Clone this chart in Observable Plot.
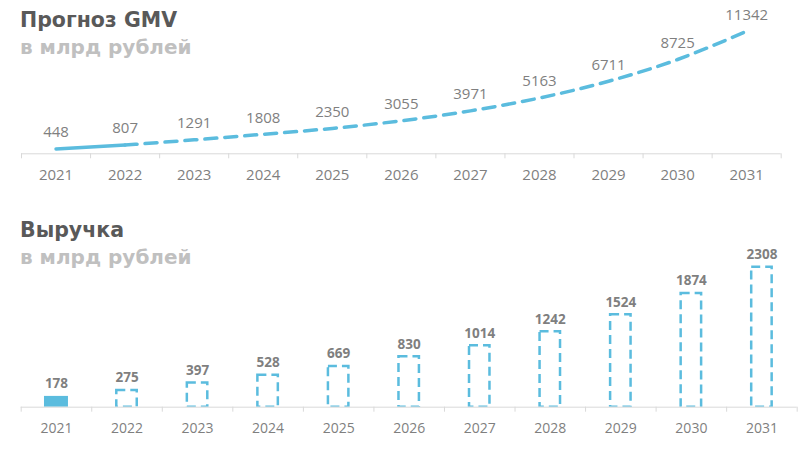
<!DOCTYPE html>
<html><head><meta charset="utf-8">
<script src="https://cdn.jsdelivr.net/npm/d3@7"></script>
<script src="https://cdn.jsdelivr.net/npm/@observablehq/plot@0.6"></script>
<style>
body{margin:0;background:#fff;}
#wrap{position:relative;width:807px;height:449px;overflow:hidden;background:#fff;}
#top,#bot{position:absolute;left:0;}
#top{top:0;}
#bot{top:200px;}
.t{position:absolute;left:20px;font-family:"DejaVu Sans",sans-serif;font-weight:bold;font-size:20px;line-height:20px;white-space:nowrap;}
.title{color:#595959;font-size:20.5px;}
.sub{color:#c0c0c0;}
</style></head><body>
<div id="wrap">
  <div id="top"></div>
  <div id="bot"></div>
  <div class="t title" style="top:10px">Прогноз GMV</div>
  <div class="t sub" style="top:37px">в млрд рублей</div>
  <div class="t title" style="top:220px">Выручка</div>
  <div class="t sub" style="top:247px">в млрд рублей</div>
</div>
<script>
const years = [2021, 2022, 2023, 2024, 2025, 2026, 2027, 2028, 2029, 2030, 2031];
const gmv = [448, 807, 1291, 1808, 2350, 3055, 3971, 5163, 6711, 8725, 11342];
const revenue = [178, 275, 397, 528, 669, 830, 1014, 1242, 1524, 1874, 2308];
const gmvLastActual = 2022;      // solid line up to here, forecast dashed after
const revenueLastActual = 2021;  // filled bar up to here, forecast outlined after

const BLUE = "#5bbcde";
const GRAY = "#7f7f7f";
const AXIS = "#d9d9d9";
const FONT = "'Open Sans', 'Liberation Sans', sans-serif";

const boundaries = [...years.map(y => y - 0.5), years[years.length - 1] + 0.5];
const xDomain = [boundaries[0], boundaries[boundaries.length - 1]];

const gData = years.map((year, i) => ({year, value: gmv[i]}));
const rData = years.map((year, i) => ({year, value: revenue[i]}));

const topChart = Plot.plot({
  width: 807, height: 190,
  marginLeft: 21, marginRight: 26.3, marginTop: 30.7, marginBottom: 36.7,
  x: {domain: xDomain},
  y: {domain: [0, 11342], axis: null},
  style: {fontFamily: FONT, background: "transparent", overflow: "visible"},
  marks: [
    Plot.ruleY([0], {stroke: AXIS, strokeWidth: 1}),
    Plot.axisX({ticks: boundaries, tickFormat: () => "", tickSize: 5, stroke: AXIS, strokeOpacity: 1, label: null}),
    Plot.axisX({ticks: years, tickSize: 0, tickPadding: 16, tickFormat: d => String(d), fontSize: 15, fill: GRAY, label: null}),
    Plot.line(gData.filter(d => d.year <= gmvLastActual), {x: "year", y: "value", stroke: BLUE, strokeWidth: 3.5, curve: "monotone-x"}),
    Plot.line(gData.filter(d => d.year >= gmvLastActual), {x: "year", y: "value", stroke: BLUE, strokeWidth: 3.5, strokeDasharray: "12,8", curve: "monotone-x"}),
    Plot.text(gData, {x: "year", y: "value", text: d => String(d.value), dy: -16.5, fill: GRAY, fontSize: 15})
  ]
});
document.getElementById("top").appendChild(topChart);

const FILL_HALF = 0.17, OUTLINE_HALF = 0.145;
const botChart = Plot.plot({
  width: 807, height: 249,
  marginLeft: 20.7, marginRight: 10.3, marginTop: 66.7, marginBottom: 42.3,
  x: {domain: xDomain},
  y: {domain: [0, 2308], axis: null},
  style: {fontFamily: FONT, background: "transparent", overflow: "visible"},
  marks: [
    Plot.rect(rData.filter(d => d.year > revenueLastActual), {
      x1: d => d.year - OUTLINE_HALF, x2: d => d.year + OUTLINE_HALF, y1: 0, y2: "value",
      fill: "none", stroke: BLUE, strokeWidth: 2.5, strokeDasharray: "9,5"
    }),
    Plot.ruleY([0], {stroke: "#ffffff", strokeWidth: 3, dy: 1}),
    Plot.rect(rData.filter(d => d.year <= revenueLastActual), {
      x1: d => d.year - FILL_HALF, x2: d => d.year + FILL_HALF, y1: 0, y2: "value", fill: BLUE
    }),
    Plot.axisX({ticks: boundaries, tickFormat: () => "", tickSize: 5, stroke: AXIS, strokeOpacity: 1, label: null}),
    Plot.axisX({ticks: years, tickSize: 0, tickPadding: 16, tickFormat: d => String(d), fontSize: 14, fill: GRAY, label: null}),
    Plot.ruleY([0], {stroke: AXIS, strokeWidth: 1}),
    Plot.text(rData, {x: "year", y: "value", text: d => String(d.value), dy: -12.5, fill: GRAY, fontSize: 13.5, fontWeight: "bold"})
  ]
});
document.getElementById("bot").appendChild(botChart);
</script>
</body></html>
